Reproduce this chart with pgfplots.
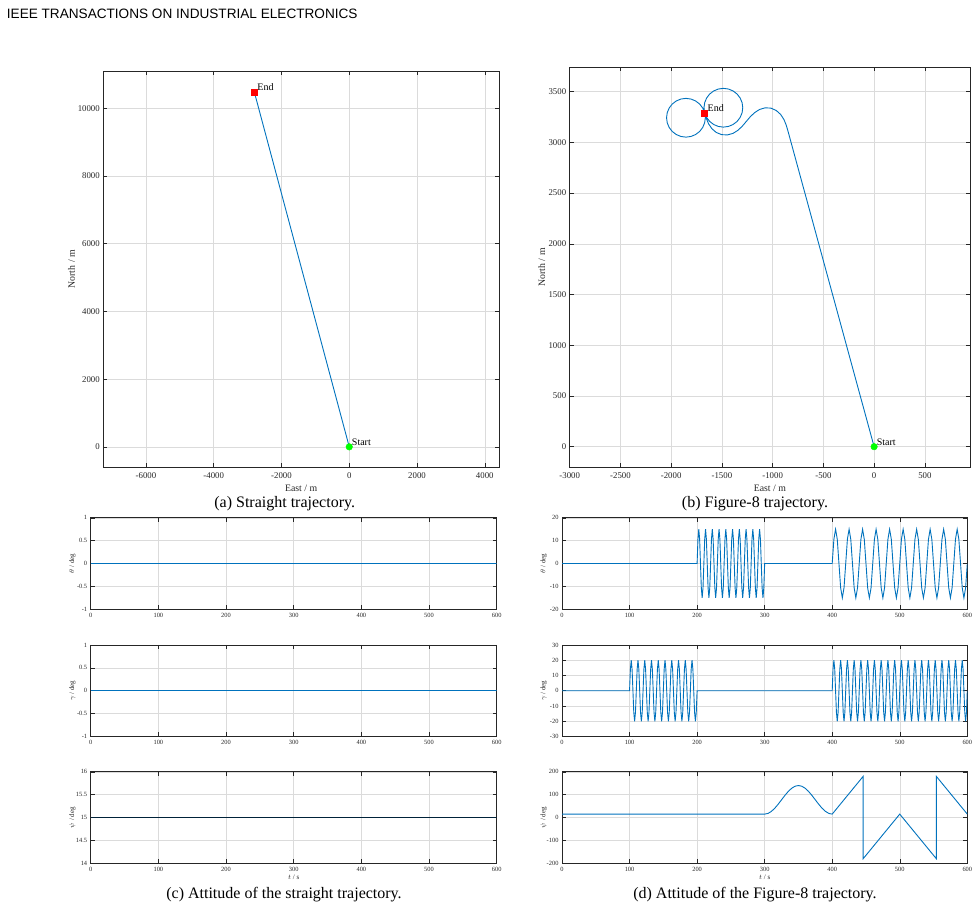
\documentclass[border=0pt]{standalone}
\usepackage{fontspec}
\setmainfont{Liberation Serif}
\newfontfamily\headfont{Liberation Sans}
\usepackage{pgfplots}
\pgfplotsset{compat=1.18}
\definecolor{mblue}{RGB}{0,114,189}
\pgfplotsset{
 mstyle/.style={
  scale only axis,
  anchor=south west,
  scaled ticks=false,
  axis line style={draw=black!85, line width=0.6pt},
  tick style={black!85, line width=0.5pt},
  major tick length=4pt,
  tick align=inside,
  xtick pos=both, ytick pos=both,
  xmajorgrids, ymajorgrids,
  major grid style={draw=black!14, line width=0.5pt},
  tick label style={text=black!85},
  label style={text=black!85},
 },
 topax/.style={mstyle,
  tick label style={font=\fontsize{8.8}{10}\selectfont},
  xticklabel style={yshift=-2pt},
  label style={font=\fontsize{9.8}{11}\selectfont},
  xlabel style={at={(axis description cs:0.5,-0.0525)},anchor=center},
 },
 lowax/.style={mstyle, height=91.5pt,
  xmin=0, xmax=600, xtick={0,100,200,300,400,500,600},
  xticklabels={0,100,200,300,400,500,600},
  tick label style={font=\fontsize{6.4}{7.5}\selectfont},
  label style={font=\fontsize{7}{8}\selectfont},
  ylabel style={at={(axis description cs:-0.045,0.5)},anchor=center},
  xlabel style={at={(axis description cs:0.5,-0.157)},anchor=center},
 },
 pline/.style={color=mblue, line width=0.9pt},
}
\begin{document}
\begin{tikzpicture}
\path[use as bounding box] (0pt,0pt) rectangle (978pt,910pt);
\node[anchor=base west, inner sep=0pt, font=\headfont\fontsize{13.6}{16}\selectfont] at (6.7pt,891.7pt) {IEEE TRANSACTIONS ON INDUSTRIAL ELECTRONICS};

% (a)
\begin{axis}[topax, at={(103.3pt,442.5pt)}, width=395.7pt, height=396.5pt,
 xmin=-7260, xmax=4420, ymin=-610, ymax=11100,
 xtick={-6000,-4000,-2000,0,2000,4000}, xticklabels={-6000,-4000,-2000,0,2000,4000},
 ytick={0,2000,4000,6000,8000,10000}, yticklabels={0,2000,4000,6000,8000,10000},
 xlabel={East / m}, ylabel={North / m},
 ylabel style={at={(axis description cs:-0.08,0.5)},anchor=center}]
\addplot[pline] coordinates {(0,0)(-2800,10470)};
\addplot[only marks, mark=*, mark size=3.3pt, color=green, mark options={draw=green, fill=green}] coordinates {(0,0)};
\addplot[only marks, mark=square*, mark size=3pt, color=red, mark options={draw=red, fill=red}] coordinates {(-2800,10470)};
\node[anchor=west, inner sep=0pt, xshift=2.5pt, yshift=4.8pt, font=\fontsize{10}{12}\selectfont] at (axis cs:0,0) {Start};
\node[anchor=west, inner sep=0pt, xshift=2.8pt, yshift=4.8pt, font=\fontsize{10}{12}\selectfont] at (axis cs:-2800,10470) {End};
\end{axis}

% (b)
\begin{axis}[topax, at={(569.7pt,442.7pt)}, width=400.3pt, height=400pt,
 xmin=-3000, xmax=945, ymin=-203, ymax=3740,
 xtick={-3000,-2500,-2000,-1500,-1000,-500,0,500}, xticklabels={-3000,-2500,-2000,-1500,-1000,-500,0,500},
 ytick={0,500,1000,1500,2000,2500,3000,3500}, yticklabels={0,500,1000,1500,2000,2500,3000,3500},
 xlabel={East / m}, ylabel={North / m},
 ylabel style={at={(axis description cs:-0.07,0.5)},anchor=center}]
\addplot[pline] coordinates {
(0,0)(-850,3115)(-866.5,3170.6)(-888.6,3225.0)(-920.7,3274.8)(-964.3,3314.1)(-1017.2,3337.6)(-1074.3,3340.5)(-1129.6,3324.1)(-1178.9,3292.3)(-1221.5,3251.3)(-1259.9,3205.9)(-1298.4,3160.5)(-1341.0,3119.4)(-1390.3,3088.6)(-1445.6,3073.3)(-1502.7,3076.1)(-1555.6,3097.6)(-1599.2,3134.9)(-1631.3,3182.7)(-1653.4,3236.1)(-1670.0,3292.0)
(-1689.1,3338.1)(-1719.4,3377.7)(-1759.0,3408.0)(-1805.1,3427.1)(-1854.5,3433.6)(-1903.9,3427.1)(-1950.0,3408.0)(-1989.6,3377.7)(-2019.9,3338.1)(-2039.0,3292.0)(-2045.5,3242.6)(-2039.0,3193.2)(-2019.9,3147.1)(-1989.6,3107.5)(-1950.0,3077.2)(-1903.9,3058.1)(-1854.5,3051.6)(-1805.1,3058.1)(-1759.0,3077.2)(-1719.4,3107.5)(-1689.1,3147.1)(-1670.0,3193.2)(-1663.5,3242.6)(-1670.0,3292.0)
(-1676.5,3341.4)(-1670.0,3390.8)(-1650.9,3436.9)(-1620.6,3476.5)(-1581.0,3506.8)(-1534.9,3525.9)(-1485.5,3532.4)(-1436.1,3525.9)(-1390.0,3506.8)(-1350.4,3476.5)(-1320.1,3436.9)(-1301.0,3390.8)(-1294.5,3341.4)(-1301.0,3292.0)(-1320.1,3245.9)(-1350.4,3206.3)(-1390.0,3176.0)(-1436.1,3156.9)(-1485.5,3150.4)(-1534.9,3156.9)(-1581.0,3176.0)(-1620.6,3206.3)(-1650.9,3245.9)(-1670.0,3292.0)
};
\addplot[only marks, mark=*, mark size=3.3pt, color=green, mark options={draw=green, fill=green}] coordinates {(0,0)};
\addplot[only marks, mark=square*, mark size=3pt, color=red, mark options={draw=red, fill=red}] coordinates {(-1670,3292)};
\node[anchor=west, inner sep=0pt, xshift=2.5pt, yshift=4.8pt, font=\fontsize{10}{12}\selectfont] at (axis cs:0,0) {Start};
\node[anchor=west, inner sep=0pt, xshift=2.8pt, yshift=4.8pt, font=\fontsize{10}{12}\selectfont] at (axis cs:-1670,3292) {End};
\end{axis}

% (c) row 1
\begin{axis}[lowax, at={(90.7pt,300.7pt)}, width=406pt,
 ymin=-1, ymax=1, ytick={-1,-0.5,0,0.5,1}, yticklabels={-1,-0.5,0,0.5,1},
 ylabel={$\theta$ / deg}]
\addplot[pline] coordinates {(0,0)(600,0)};
\end{axis}
% (c) row 2
\begin{axis}[lowax, at={(90.7pt,173.5pt)}, width=406pt,
 ymin=-1, ymax=1, ytick={-1,-0.5,0,0.5,1}, yticklabels={-1,-0.5,0,0.5,1},
 ylabel={$\gamma$ / deg}]
\addplot[pline] coordinates {(0,0)(600,0)};
\end{axis}
% (c) row 3
\begin{axis}[lowax, at={(90.7pt,46.7pt)}, width=406pt,
 ymin=14, ymax=16, ytick={14,14.5,15,15.5,16}, yticklabels={14,14.5,15,15.5,16},
 ylabel={$\psi$ / deg}, xlabel={$t$ / s}]
\addplot[color=black!70!mblue, line width=0.9pt] coordinates {(0,15)(600,15)};
\end{axis}

% (d) row 1
\begin{axis}[lowax, at={(562pt,300.7pt)}, width=405.3pt,
 ymin=-20, ymax=20, ytick={-20,-10,0,10,20}, yticklabels={-20,-10,0,10,20},
 ylabel={$\theta$ / deg}]
\addplot[pline] coordinates {
(0,0)(200,0)
(201.25,10.61)(202.5,15)(203.75,10.61)(205,0)(206.25,-10.61)(207.5,-15)(208.75,-10.61)(210,0)
(211.25,10.61)(212.5,15)(213.75,10.61)(215,0)(216.25,-10.61)(217.5,-15)(218.75,-10.61)(220,0)
(221.25,10.61)(222.5,15)(223.75,10.61)(225,0)(226.25,-10.61)(227.5,-15)(228.75,-10.61)(230,0)
(231.25,10.61)(232.5,15)(233.75,10.61)(235,0)(236.25,-10.61)(237.5,-15)(238.75,-10.61)(240,0)
(241.25,10.61)(242.5,15)(243.75,10.61)(245,0)(246.25,-10.61)(247.5,-15)(248.75,-10.61)(250,0)
(251.25,10.61)(252.5,15)(253.75,10.61)(255,0)(256.25,-10.61)(257.5,-15)(258.75,-10.61)(260,0)
(261.25,10.61)(262.5,15)(263.75,10.61)(265,0)(266.25,-10.61)(267.5,-15)(268.75,-10.61)(270,0)
(271.25,10.61)(272.5,15)(273.75,10.61)(275,0)(276.25,-10.61)(277.5,-15)(278.75,-10.61)(280,0)
(281.25,10.61)(282.5,15)(283.75,10.61)(285,0)(286.25,-10.61)(287.5,-15)(288.75,-10.61)(290,0)
(291.25,10.61)(292.5,15)(293.75,10.61)(295,0)(296.25,-10.61)(297.5,-15)(298.75,-10.61)(300,0)
(400,0)
(402.5,10.61)(405,15)(407.5,10.61)(410,0)(412.5,-10.61)(415,-15)(417.5,-10.61)(420,0)
(422.5,10.61)(425,15)(427.5,10.61)(430,0)(432.5,-10.61)(435,-15)(437.5,-10.61)(440,0)
(442.5,10.61)(445,15)(447.5,10.61)(450,0)(452.5,-10.61)(455,-15)(457.5,-10.61)(460,0)
(462.5,10.61)(465,15)(467.5,10.61)(470,0)(472.5,-10.61)(475,-15)(477.5,-10.61)(480,0)
(482.5,10.61)(485,15)(487.5,10.61)(490,0)(492.5,-10.61)(495,-15)(497.5,-10.61)(500,0)
(502.5,10.61)(505,15)(507.5,10.61)(510,0)(512.5,-10.61)(515,-15)(517.5,-10.61)(520,0)
(522.5,10.61)(525,15)(527.5,10.61)(530,0)(532.5,-10.61)(535,-15)(537.5,-10.61)(540,0)
(542.5,10.61)(545,15)(547.5,10.61)(550,0)(552.5,-10.61)(555,-15)(557.5,-10.61)(560,0)
(562.5,10.61)(565,15)(567.5,10.61)(570,0)(572.5,-10.61)(575,-15)(577.5,-10.61)(580,0)
(582.5,10.61)(585,15)(587.5,10.61)(590,0)(592.5,-10.61)(595,-15)(597.5,-10.61)(600,0)
};
\end{axis}
% (d) row 2
\begin{axis}[lowax, at={(562pt,173.5pt)}, width=405.3pt,
 ymin=-30, ymax=30, ytick={-30,-20,-10,0,10,20,30}, yticklabels={-30,-20,-10,0,10,20,30},
 ylabel={$\gamma$ / deg}]
\addplot[pline] coordinates {
(0,0)(100,0)
(101.25,14.14)(102.5,20)(103.75,14.14)(105,0)(106.25,-14.14)(107.5,-20)(108.75,-14.14)(110,0)
(111.25,14.14)(112.5,20)(113.75,14.14)(115,0)(116.25,-14.14)(117.5,-20)(118.75,-14.14)(120,0)
(121.25,14.14)(122.5,20)(123.75,14.14)(125,0)(126.25,-14.14)(127.5,-20)(128.75,-14.14)(130,0)
(131.25,14.14)(132.5,20)(133.75,14.14)(135,0)(136.25,-14.14)(137.5,-20)(138.75,-14.14)(140,0)
(141.25,14.14)(142.5,20)(143.75,14.14)(145,0)(146.25,-14.14)(147.5,-20)(148.75,-14.14)(150,0)
(151.25,14.14)(152.5,20)(153.75,14.14)(155,0)(156.25,-14.14)(157.5,-20)(158.75,-14.14)(160,0)
(161.25,14.14)(162.5,20)(163.75,14.14)(165,0)(166.25,-14.14)(167.5,-20)(168.75,-14.14)(170,0)
(171.25,14.14)(172.5,20)(173.75,14.14)(175,0)(176.25,-14.14)(177.5,-20)(178.75,-14.14)(180,0)
(181.25,14.14)(182.5,20)(183.75,14.14)(185,0)(186.25,-14.14)(187.5,-20)(188.75,-14.14)(190,0)
(191.25,14.14)(192.5,20)(193.75,14.14)(195,0)(196.25,-14.14)(197.5,-20)(198.75,-14.14)(200,0)
(400,0)
(401.25,14.14)(402.5,20)(403.75,14.14)(405,0)(406.25,-14.14)(407.5,-20)(408.75,-14.14)(410,0)
(411.25,14.14)(412.5,20)(413.75,14.14)(415,0)(416.25,-14.14)(417.5,-20)(418.75,-14.14)(420,0)
(421.25,14.14)(422.5,20)(423.75,14.14)(425,0)(426.25,-14.14)(427.5,-20)(428.75,-14.14)(430,0)
(431.25,14.14)(432.5,20)(433.75,14.14)(435,0)(436.25,-14.14)(437.5,-20)(438.75,-14.14)(440,0)
(441.25,14.14)(442.5,20)(443.75,14.14)(445,0)(446.25,-14.14)(447.5,-20)(448.75,-14.14)(450,0)
(451.25,14.14)(452.5,20)(453.75,14.14)(455,0)(456.25,-14.14)(457.5,-20)(458.75,-14.14)(460,0)
(461.25,14.14)(462.5,20)(463.75,14.14)(465,0)(466.25,-14.14)(467.5,-20)(468.75,-14.14)(470,0)
(471.25,14.14)(472.5,20)(473.75,14.14)(475,0)(476.25,-14.14)(477.5,-20)(478.75,-14.14)(480,0)
(481.25,14.14)(482.5,20)(483.75,14.14)(485,0)(486.25,-14.14)(487.5,-20)(488.75,-14.14)(490,0)
(491.25,14.14)(492.5,20)(493.75,14.14)(495,0)(496.25,-14.14)(497.5,-20)(498.75,-14.14)(500,0)
(501.25,14.14)(502.5,20)(503.75,14.14)(505,0)(506.25,-14.14)(507.5,-20)(508.75,-14.14)(510,0)
(511.25,14.14)(512.5,20)(513.75,14.14)(515,0)(516.25,-14.14)(517.5,-20)(518.75,-14.14)(520,0)
(521.25,14.14)(522.5,20)(523.75,14.14)(525,0)(526.25,-14.14)(527.5,-20)(528.75,-14.14)(530,0)
(531.25,14.14)(532.5,20)(533.75,14.14)(535,0)(536.25,-14.14)(537.5,-20)(538.75,-14.14)(540,0)
(541.25,14.14)(542.5,20)(543.75,14.14)(545,0)(546.25,-14.14)(547.5,-20)(548.75,-14.14)(550,0)
(551.25,14.14)(552.5,20)(553.75,14.14)(555,0)(556.25,-14.14)(557.5,-20)(558.75,-14.14)(560,0)
(561.25,14.14)(562.5,20)(563.75,14.14)(565,0)(566.25,-14.14)(567.5,-20)(568.75,-14.14)(570,0)
(571.25,14.14)(572.5,20)(573.75,14.14)(575,0)(576.25,-14.14)(577.5,-20)(578.75,-14.14)(580,0)
(581.25,14.14)(582.5,20)(583.75,14.14)(585,0)(586.25,-14.14)(587.5,-20)(588.75,-14.14)(590,0)
(591.25,14.14)(592.5,20)(593.75,14.14)(595,0)(596.25,-14.14)(597.5,-20)(598.75,-14.14)(600,0)
};
\end{axis}
% (d) row 3
\begin{axis}[lowax, at={(562pt,46.7pt)}, width=405.3pt,
 ymin=-200, ymax=200, ytick={-200,-100,0,100,200}, yticklabels={-200,-100,0,100,200},
 ylabel={$\psi$ / deg}, xlabel={$t$ / s}]
\addplot[pline] coordinates {
(0,15)(300,15)(305,18.06)(310,26.94)(315,40.76)(320,58.19)(325,77.5)(330,96.81)(335,114.24)(340,128.06)(345,136.94)(350,140)(355,136.94)(360,128.06)(365,114.24)(370,96.81)(375,77.5)(380,58.19)(385,40.76)(390,26.94)(395,18.06)(400,15)
(445.83,180)(445.83,-180)(500,15)(554.17,-180)(554.17,180)(600,15)
};
\end{axis}

% captions
\node[anchor=base, inner sep=0pt, font=\fontsize{16}{18}\selectfont] at (284.7pt,402pt) {(a) Straight trajectory.};
\node[anchor=base, inner sep=0pt, font=\fontsize{16}{18}\selectfont] at (755pt,402pt) {(b) Figure-8 trajectory.};
\node[anchor=base, inner sep=0pt, font=\fontsize{16}{18}\selectfont] at (284pt,11pt) {(c) Attitude of the straight trajectory.};
\node[anchor=base, inner sep=0pt, font=\fontsize{16}{18}\selectfont] at (755pt,11pt) {(d) Attitude of the Figure-8 trajectory.};
\end{tikzpicture}
\end{document}
